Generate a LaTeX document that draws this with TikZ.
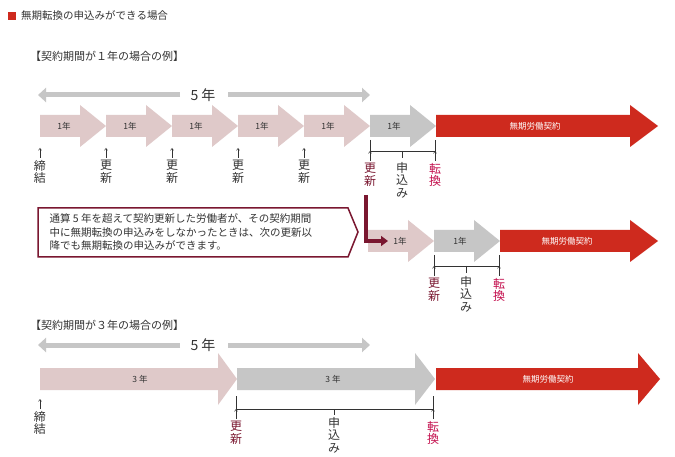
\documentclass[tikz,border=0pt]{standalone}
\usepackage{fontspec}
\setmainfont{Noto Sans CJK JP}
\usetikzlibrary{arrows.meta}
\definecolor{cpink}{HTML}{DFC9C9}
\definecolor{cgray}{HTML}{C6C6C6}
\definecolor{cred}{HTML}{CE2A1E}
\definecolor{cdark}{HTML}{7A1730}
\definecolor{cmag}{HTML}{C4104E}
\definecolor{ctext}{HTML}{333333}
\newcommand\harrow[5]{% x0 x1 yc color labelx
  \fill[#4] (#1,#3-11) -- (#2-26,#3-11) -- (#2-26,#3-21) -- (#2,#3) -- (#2-26,#3+21) -- (#2-26,#3+11) -- (#1,#3+11) -- cycle;
  \node[alab,text=ctext] at (#5,#3) {1年};}
\newcommand\vlab[4]{% x y color text
  \draw[upar] (#1,#2+10) -- (#1,#2);
  \node[vt,text=#3,anchor=north] at (#1,#2+12) {#4};}
\begin{document}
\begin{tikzpicture}[x=1pt,y=-1pt,
  alab/.style={font=\fontsize{8.5}{9}\selectfont},
  vt/.style={font=\fontsize{12}{12.5}\selectfont,align=center,inner sep=0pt},
  upar/.style={-{Straight Barb[length=2pt,width=3pt]},ctext,line width=0.5pt},
  brk/.style={ctext,line width=0.8pt},
  fivey/.style={cgray,line width=5pt,-{Triangle[length=8pt,width=14pt]}},
  lab/.style={font=\fontsize{10.5}{12}\selectfont,text=ctext,anchor=west,inner sep=0pt}]
\useasboundingbox[fill=white] (0,0) rectangle (675,457);
% title
\fill[cred] (8,12) rectangle (16,20);
\node[lab] (title) at (21,16) {無期転換の申込みができる場合};
\node[lab,font=\fontsize{11}{12}\selectfont] (h1) at (30,56) {【契約期間が１年の場合の例】};
% 5 year arrow row 1
\node[font=\fontsize{14}{14}\selectfont,text=ctext] (f1) at (203,95) {5 年};
\draw[fivey] (180,95) -- (38,95);
\draw[fivey] (228,95) -- (370,95);
% row 1
\foreach \a in {40,106,172,238,304}{\harrow{\a}{\a+66}{126}{cpink}{\a+24}}
\harrow{370}{436}{126}{cgray}{394}
\fill[cred] (436,115) -- (630,115) -- (630,105) -- (658,126) -- (630,147) -- (630,137) -- (436,137) -- cycle;
\node[alab,text=white] (r1) at (535,126) {無期労働契約};
\vlab{40}{148}{ctext}{締\\結}
\foreach \a in {106,172,238,304}{\vlab{\a}{148}{ctext}{更\\新}}
\draw[brk] (370,140) -- (370,151) -- (435,151) -- (435,140);
\draw[brk] (402,151) -- (402,158);
\vlab{370}{151}{cdark}{更\\新}
\node[vt,text=ctext,anchor=north] (m1) at (402,162) {申\\込\\み};
\vlab{435}{151}{cmag}{転\\換}
% callout
\draw[cdark,line width=1.5pt,fill=white] (38,208) -- (348,208) -- (358,232) -- (348,257) -- (38,257) -- cycle;
\node[font=\fontsize{10.5}{13.5}\selectfont,text=ctext,align=left,anchor=west] (co) at (46,232) {通算 5 年を超えて契約更新した労働者が、その契約期間\\中に無期転換の申込みをしなかったときは、次の更新以\\降でも無期転換の申込みができます。};
% row 2
\harrow{368}{434}{241}{cpink}{400}
\harrow{434}{500}{241}{cgray}{460}
\fill[cred] (500,230) -- (630,230) -- (630,220) -- (658,241) -- (630,262) -- (630,252) -- (500,252) -- cycle;
\node[alab,text=white] (r2) at (567,241) {無期労働契約};
\draw[cdark,line width=3.5pt,-{Triangle[length=7pt,width=10pt]}] (366,195) -- (366,241) -- (388,241);
\draw[brk] (434,255) -- (434,266) -- (499,266) -- (499,255);
\draw[brk] (466,266) -- (466,273);
\vlab{434}{266}{cdark}{更\\新}
\node[vt,text=ctext,anchor=north] (m2) at (466,276) {申\\込\\み};
\vlab{499}{266}{cmag}{転\\換}
% row 3
\node[lab,font=\fontsize{11}{12}\selectfont] (h2) at (30,325) {【契約期間が３年の場合の例】};
\node[font=\fontsize{14}{14}\selectfont,text=ctext] (f2) at (203,345) {5 年};
\draw[fivey] (180,345) -- (38,345);
\draw[fivey] (228,345) -- (370,345);
\fill[cpink] (40,368) -- (218,368) -- (218,353) -- (237,379) -- (218,405) -- (218,390) -- (40,390) -- cycle;
\node[alab,text=ctext] at (140,379) {3 年};
\fill[cgray] (237,368) -- (415,368) -- (415,353) -- (435,379) -- (415,405) -- (415,390) -- (237,390) -- cycle;
\node[alab,text=ctext] at (333,379) {3 年};
\fill[cred] (436,368) -- (638,368) -- (638,353) -- (660,379) -- (638,405) -- (638,390) -- (436,390) -- cycle;
\node[alab,text=white] (r3) at (548,379) {無期労働契約};
\vlab{40}{399}{ctext}{締\\結}
\draw[brk] (236,396) -- (236,409) -- (433,409) -- (433,396);
\draw[brk] (334,409) -- (334,415);
\vlab{236}{409}{cdark}{更\\新}
\node[vt,text=ctext,anchor=north] (m3) at (334,417) {申\\込\\み};
\vlab{433}{409}{cmag}{転\\換}
\end{tikzpicture}
\end{document}
